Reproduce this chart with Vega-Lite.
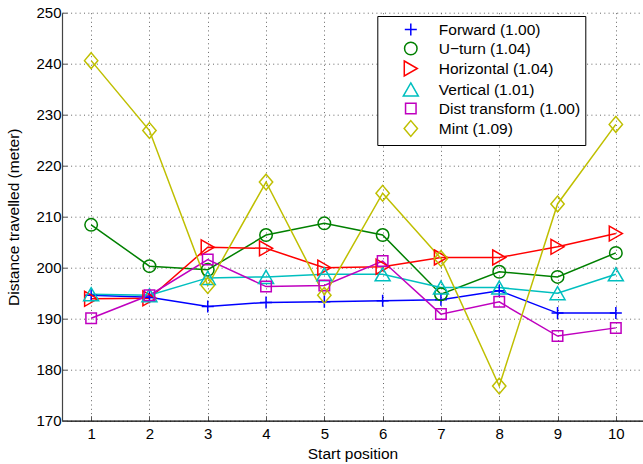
{
  "$schema": "https://vega.github.io/schema/vega-lite/v6.json",
  "width": 581,
  "height": 408,
  "autosize": "none",
  "padding": {"left": 62, "top": 12.7, "right": 0, "bottom": 43.3},
  "background": "white",
  "config": {"view": {"stroke": null}, "font": "Liberation Sans"},
  "data": {
    "values": [
      {"series": "Forward (1.00)", "pos": 1, "value": 194.6},
      {"series": "Forward (1.00)", "pos": 2, "value": 194.2},
      {"series": "Forward (1.00)", "pos": 3, "value": 192.4},
      {"series": "Forward (1.00)", "pos": 4, "value": 193.2},
      {"series": "Forward (1.00)", "pos": 5, "value": 193.3},
      {"series": "Forward (1.00)", "pos": 6, "value": 193.5},
      {"series": "Forward (1.00)", "pos": 7, "value": 193.7},
      {"series": "Forward (1.00)", "pos": 8, "value": 195.5},
      {"series": "Forward (1.00)", "pos": 9, "value": 191.1},
      {"series": "Forward (1.00)", "pos": 10, "value": 191.1},
      {"series": "U\u2212turn (1.04)", "pos": 1, "value": 208.4},
      {"series": "U\u2212turn (1.04)", "pos": 2, "value": 200.3},
      {"series": "U\u2212turn (1.04)", "pos": 3, "value": 199.6},
      {"series": "U\u2212turn (1.04)", "pos": 4, "value": 206.4},
      {"series": "U\u2212turn (1.04)", "pos": 5, "value": 208.7},
      {"series": "U\u2212turn (1.04)", "pos": 6, "value": 206.4},
      {"series": "U\u2212turn (1.04)", "pos": 7, "value": 194.8},
      {"series": "U\u2212turn (1.04)", "pos": 8, "value": 199.2},
      {"series": "U\u2212turn (1.04)", "pos": 9, "value": 198.2},
      {"series": "U\u2212turn (1.04)", "pos": 10, "value": 202.9},
      {"series": "Horizontal (1.04)", "pos": 1, "value": 193.9},
      {"series": "Horizontal (1.04)", "pos": 2, "value": 194.0},
      {"series": "Horizontal (1.04)", "pos": 3, "value": 204.0},
      {"series": "Horizontal (1.04)", "pos": 4, "value": 203.8},
      {"series": "Horizontal (1.04)", "pos": 5, "value": 200.0},
      {"series": "Horizontal (1.04)", "pos": 6, "value": 200.2},
      {"series": "Horizontal (1.04)", "pos": 7, "value": 202.0},
      {"series": "Horizontal (1.04)", "pos": 8, "value": 202.0},
      {"series": "Horizontal (1.04)", "pos": 9, "value": 204.1},
      {"series": "Horizontal (1.04)", "pos": 10, "value": 206.7},
      {"series": "Vertical (1.01)", "pos": 1, "value": 194.8},
      {"series": "Vertical (1.01)", "pos": 2, "value": 194.6},
      {"series": "Vertical (1.01)", "pos": 3, "value": 198.0},
      {"series": "Vertical (1.01)", "pos": 4, "value": 198.2},
      {"series": "Vertical (1.01)", "pos": 5, "value": 198.7},
      {"series": "Vertical (1.01)", "pos": 6, "value": 198.7},
      {"series": "Vertical (1.01)", "pos": 7, "value": 196.1},
      {"series": "Vertical (1.01)", "pos": 8, "value": 196.1},
      {"series": "Vertical (1.01)", "pos": 9, "value": 195.0},
      {"series": "Vertical (1.01)", "pos": 10, "value": 198.7},
      {"series": "Dist transform (1.00)", "pos": 1, "value": 190.1},
      {"series": "Dist transform (1.00)", "pos": 2, "value": 194.6},
      {"series": "Dist transform (1.00)", "pos": 3, "value": 201.6},
      {"series": "Dist transform (1.00)", "pos": 4, "value": 196.3},
      {"series": "Dist transform (1.00)", "pos": 5, "value": 196.5},
      {"series": "Dist transform (1.00)", "pos": 6, "value": 201.3},
      {"series": "Dist transform (1.00)", "pos": 7, "value": 190.9},
      {"series": "Dist transform (1.00)", "pos": 8, "value": 193.3},
      {"series": "Dist transform (1.00)", "pos": 9, "value": 186.6},
      {"series": "Dist transform (1.00)", "pos": 10, "value": 188.2},
      {"series": "Mint (1.09)", "pos": 1, "value": 240.6},
      {"series": "Mint (1.09)", "pos": 2, "value": 226.9},
      {"series": "Mint (1.09)", "pos": 3, "value": 196.5},
      {"series": "Mint (1.09)", "pos": 4, "value": 216.8},
      {"series": "Mint (1.09)", "pos": 5, "value": 194.6},
      {"series": "Mint (1.09)", "pos": 6, "value": 214.6},
      {"series": "Mint (1.09)", "pos": 7, "value": 201.8},
      {"series": "Mint (1.09)", "pos": 8, "value": 176.8},
      {"series": "Mint (1.09)", "pos": 9, "value": 212.5},
      {"series": "Mint (1.09)", "pos": 10, "value": 228.1}
    ]
  },
  "encoding": {
    "x": {
      "field": "pos",
      "type": "quantitative",
      "scale": {"domain": [0.5, 10.466], "nice": false, "zero": false},
      "axis": {
        "values": [1, 2, 3, 4, 5, 6, 7, 8, 9, 10],
        "format": "d",
        "title": "Start position",
        "grid": true,
        "gridDash": [1, 3.3],
        "gridColor": "#666",
        "tickSize": -5,
        "tickColor": "#555",
        "labelPadding": 11,
        "labelFontSize": 15,
        "labelColor": "black",
        "domainColor": "black",
        "domainWidth": 1.2,
        "titleFontSize": 15.5,
        "titleFontWeight": "normal",
        "titleColor": "black",
        "titlePadding": 5
      }
    },
    "y": {
      "field": "value",
      "type": "quantitative",
      "scale": {"domain": [170, 250], "nice": false, "zero": false},
      "axis": {
        "values": [170, 180, 190, 200, 210, 220, 230, 240, 250],
        "title": "Distance travelled (meter)",
        "grid": true,
        "gridDash": [1, 3.3],
        "gridColor": "#666",
        "tickSize": -5,
        "tickColor": "#555",
        "labelPadding": 6,
        "labelFontSize": 15,
        "labelColor": "black",
        "domainColor": "#444",
        "domainWidth": 1.2,
        "titleFontSize": 15.5,
        "titleFontWeight": "normal",
        "titleColor": "black",
        "titlePadding": 14
      }
    },
    "color": {
      "field": "series",
      "type": "nominal",
      "scale": {
        "domain": ["Forward (1.00)", "U\u2212turn (1.04)", "Horizontal (1.04)", "Vertical (1.01)", "Dist transform (1.00)", "Mint (1.09)"],
        "range": ["#0000ff", "#008000", "#ff0000", "#00bfbf", "#bf00bf", "#bfbf00"]
      },
      "legend": {
        "orient": "none",
        "legendX": 315.3,
        "legendY": 3.3,
        "title": null,
        "padding": 5,
        "strokeColor": "black",
        "fillColor": "white",
        "labelFont": "Liberation Sans",
        "labelFontSize": 15.5,
        "labelColor": "black",
        "labelExpr": "datum.label + '\u2003'",
        "symbolSize": 225,
        "symbolOffset": 20,
        "labelOffset": 19.5,
        "rowPadding": 0,
        "symbolStrokeWidth": 1.5
      }
    }
  },
  "layer": [
    {"mark": {"type": "line", "strokeWidth": 1.5}},
    {
      "mark": {"type": "point", "filled": false, "strokeWidth": 1.5, "opacity": 1, "size": 225},
      "encoding": {
        "shape": {
          "field": "series",
          "type": "nominal",
          "scale": {
            "domain": ["Forward (1.00)", "U\u2212turn (1.04)", "Horizontal (1.04)", "Vertical (1.01)", "Dist transform (1.00)", "Mint (1.09)"],
            "range": [
              "M-0.8,0L0.8,0M0,-0.8L0,0.8",
              "M-0.833,0A0.833,0.833 0 1,0 0.833,0A0.833,0.833 0 1,0 -0.833,0Z",
              "M-0.87,-1L0.87,0L-0.87,1Z",
              "M0,-0.87L1,0.87L-1,0.87Z",
              "M-0.7,-0.7L0.7,-0.7L0.7,0.7L-0.7,0.7Z",
              "M0,-1.05L0.89,0L0,1.05L-0.89,0Z"
            ]
          },
          "legend": null
        }
      }
    }
  ]
}
